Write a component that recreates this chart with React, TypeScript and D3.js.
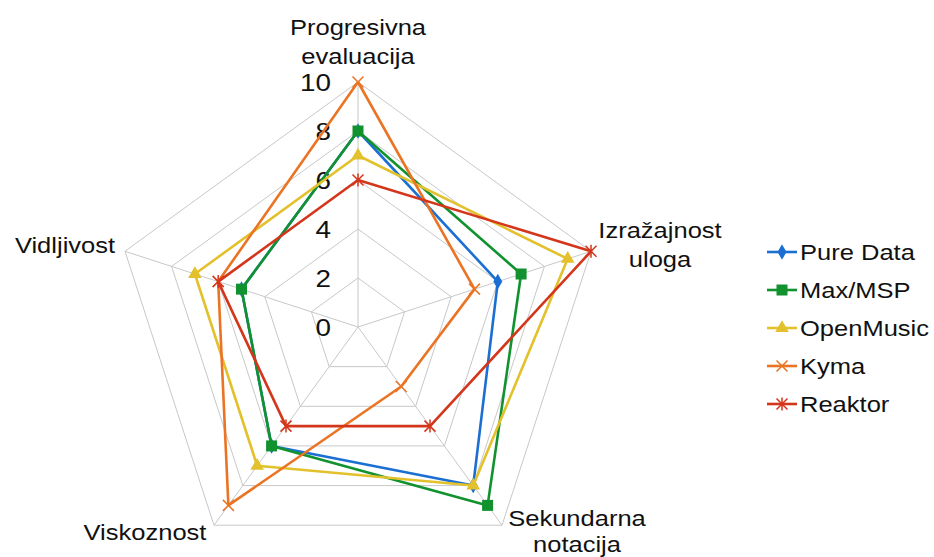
import { useEffect, useRef } from "react"
import * as d3 from "d3"

const categories = ["Progresivna\nevaluacija", "Izražajnost\nuloga", "Sekundarna\nnotacija", "Viskoznost", "Vidljivost"]
const ticks = [0, 2, 4, 6, 8, 10]

const seriesNames = ["Pure Data", "Max/MSP", "OpenMusic", "Kyma", "Reaktor"]
const pureData = [8, 6, 8, 6, 5]
const maxMsp = [8, 7, 9, 6, 5]
const openMusic = [7, 9, 8, 7, 7]
const kyma = [10, 5, 3, 9, 6]
const reaktor = [6, 10, 5, 5, 6]

const colors = ["#1b6fd2", "#12922f", "#e2c12c", "#ea7424", "#d4361c"]
const markers = ["diamond", "square", "triangle", "cross", "star"]

// label offsets from each axis end (center x, first baseline, line gap)
const labelOffsets: [number, number, number][] = [
  [0, -47, 29],
  [69, -13, 29],
  [75, 1, 26],
  [-69, 15, 29],
  [-60, 2, 29],
]

const SX = 1.16

export default function App() {
  const svgRef = useRef<SVGSVGElement>(null)

  useEffect(() => {
    if (!svgRef.current) return
    const width = 934
    const height = 557
    const cx = 358
    const cy = 327
    const font = "'Liberation Sans', Arial, sans-serif"

    const root = d3.select(svgRef.current)
    root.selectAll("*").remove()
    root.attr("width", width).attr("height", height)
    root.append("rect").attr("width", width).attr("height", height).attr("fill", "#fff")

    const svg = root.append("g").attr("transform", `translate(${cx},${cy})`)

    const r = d3.scaleLinear().domain([0, 10]).range([0, 245])
    const angle = d3
      .scaleLinear()
      .domain([0, categories.length])
      .range([0, 2 * Math.PI])
    const pt = (i: number, v: number): [number, number] => [
      r(v) * Math.sin(angle(i)),
      -r(v) * Math.cos(angle(i)),
    ]

    const radial = d3
      .lineRadial<number>()
      .angle((_, i) => angle(i))
      .radius((d) => r(d))
      .curve(d3.curveLinearClosed)

    // grid
    ticks.slice(1).forEach((t) => {
      svg
        .append("path")
        .attr("d", radial(categories.map(() => t)))
        .attr("fill", "none")
        .attr("stroke", "#c8c8c8")
        .attr("stroke-width", 1)
    })
    categories.forEach((_, i) => {
      const [x, y] = pt(i, 10)
      svg.append("line").attr("x1", 0).attr("y1", 0).attr("x2", x).attr("y2", y).attr("stroke", "#c8c8c8").attr("stroke-width", 1)
    })

    // tick labels
    ticks.forEach((t) => {
      svg
        .append("text")
        .attr("transform", `translate(-27,${-r(t)}) scale(${SX},1)`)
        .attr("text-anchor", "end")
        .attr("dy", "0.36em")
        .attr("font-family", font)
        .attr("font-size", 24)
        .attr("fill", "#111")
        .text(t)
    })

    // category labels
    categories.forEach((c, i) => {
      const [x, y] = pt(i, 10)
      const [ox, oy, gap] = labelOffsets[i]
      c.split("\n").forEach((line, j) => {
        svg
          .append("text")
          .attr("transform", `translate(${x + ox},${y + oy + j * gap}) scale(${SX},1)`)
          .attr("text-anchor", "middle")
          .attr("font-family", font)
          .attr("font-size", 22)
          .attr("fill", "#111")
          .text(line)
      })
    })

    const drawMarker = (g: d3.Selection<SVGGElement, unknown, null, undefined>, type: string, x: number, y: number, color: string) => {
      if (type === "diamond") {
        g.append("path").attr("d", d3.symbol(d3.symbolDiamond, 70)()).attr("transform", `translate(${x},${y})`).attr("fill", color)
      } else if (type === "square") {
        g.append("rect").attr("x", x - 5.5).attr("y", y - 5.5).attr("width", 11).attr("height", 11).attr("fill", color)
      } else if (type === "triangle") {
        g.append("path").attr("d", d3.symbol(d3.symbolTriangle, 80)()).attr("transform", `translate(${x},${y})`).attr("fill", color)
      } else {
        const s = 5.5
        const p = `M${x - s},${y - s}L${x + s},${y + s}M${x - s},${y + s}L${x + s},${y - s}` + (type === "star" ? `M${x},${y - s - 1}L${x},${y + s + 1}` : "")
        g.append("path").attr("d", p).attr("stroke", color).attr("stroke-width", 1.5).attr("fill", "none")
      }
    }

    const allSeries = [pureData, maxMsp, openMusic, kyma, reaktor]
    allSeries.forEach((values, si) => {
      const g = svg.append("g")
      g.append("path")
        .attr("d", radial(values))
        .attr("fill", "none")
        .attr("stroke", colors[si])
        .attr("stroke-width", 2.6)
        .attr("stroke-linejoin", "round")
      values.forEach((v, i) => {
        const [x, y] = pt(i, v)
        drawMarker(g, markers[si], x, y, colors[si])
      })
    })

    // legend
    const legendY = d3.scaleLinear().domain([0, seriesNames.length - 1]).range([252, 404])
    const lg = root.append("g")
    seriesNames.forEach((name, si) => {
      const y = legendY(si)
      lg.append("line").attr("x1", 767).attr("x2", 797).attr("y1", y).attr("y2", y).attr("stroke", colors[si]).attr("stroke-width", 2.6)
      drawMarker(lg as any, markers[si], 782, y, colors[si])
      lg.append("text")
        .attr("transform", `translate(800,${y + 8}) scale(${SX},1)`)
        .attr("font-family", font)
        .attr("font-size", 22)
        .attr("fill", "#111")
        .text(name)
    })
  }, [])

  return <svg ref={svgRef} style={{ position: "absolute", left: 0, top: 0, display: "block" }} />
}
